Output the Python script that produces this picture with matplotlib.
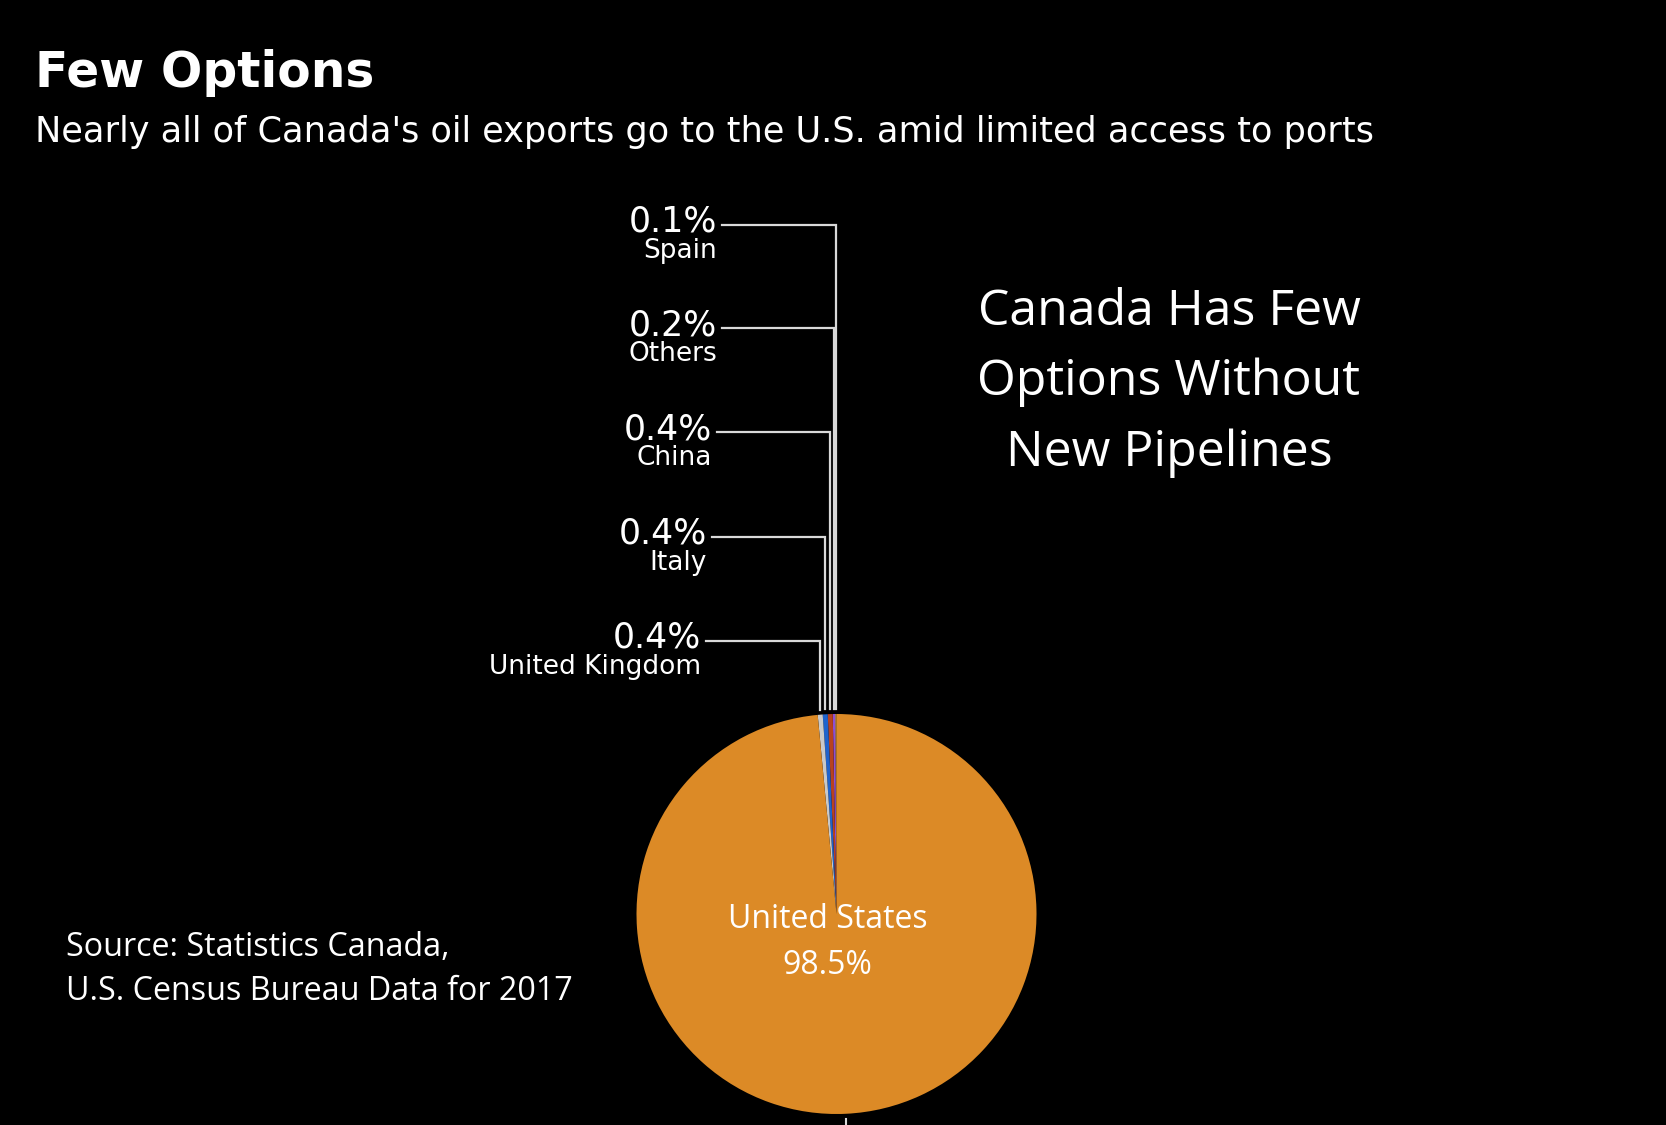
import numpy as np
import matplotlib
matplotlib.use("Agg")
from matplotlib import pyplot as plt

# data
countries = ['Spain', 'Others', 'China', 'Italy', 'United Kingdom', 'United States']
shares = [0.1, 0.2, 0.4, 0.4, 0.4, 98.5]
colors = ['#e0b040', '#8d4fd6', '#b8421f', '#1f63cc', '#c9c9c9', '#dc8a26']

W, H = 1666, 1125
fig = plt.figure(figsize=(W / 100, H / 100), dpi=100, facecolor='black')
ax = fig.add_axes([0, 0, 1, 1])
ax.set_facecolor('black')

# pie in pixel space (y up)
cx, cy, r = 836.5, H - 914, 200
ax.pie(shares, colors=colors, startangle=90, counterclock=True,
       center=(cx, cy), radius=r, wedgeprops=dict(linewidth=0))
ax.set_xlim(0, W)
ax.set_ylim(0, H)
ax.set_aspect('equal')
ax.set_axis_off()

def py(y):
    return H - y

# leader lines for the small slices
line_col = '#d9d9d9'
line_y = [225, 328, 432, 537, 641]
text_right = [717, 717, 712, 707, 701]
cum = np.cumsum([0] + shares)
for i in range(5):
    mid = np.deg2rad(90 + (cum[i] + cum[i + 1]) / 2 * 3.6)
    vx = cx + r * np.cos(mid)
    top_y = cy + r * np.sin(mid) + 5
    ax.plot([text_right[i] + 5, vx, vx], [py(line_y[i]), py(line_y[i]), top_y],
            color=line_col, lw=1.6, solid_joinstyle='miter')
    ax.text(text_right[i], py(line_y[i]) + 3, f'{shares[i]}%', color='white',
            fontsize=25, ha='right', va='center', family='DejaVu Sans')
    ax.text(text_right[i], py(line_y[i]) - 13, countries[i], color='white',
            fontsize=19, ha='right', va='top', family='DejaVu Sans')

# US leader tick at bottom
mid = np.deg2rad(90 + (cum[5] + cum[6]) / 2 * 3.6)
ux = cx + r * np.cos(mid)
ax.plot([ux, ux], [cy + r * np.sin(mid) - 5, -5], color=line_col, lw=1.5)

ax.text(cx - 9, py(919), 'United States', color='white', fontsize=23,
        ha='center', va='center', family='Open Sans')
ax.text(cx - 9, py(965), f'{shares[5]}%', color='white', fontsize=23,
        ha='center', va='center', family='Open Sans')

# titles
ax.text(35, py(87), 'Few Options', color='white', fontsize=35, fontweight='bold',
        ha='left', va='baseline', family='DejaVu Sans')
ax.text(35, py(142), "Nearly all of Canada's oil exports go to the U.S. amid limited access to ports",
        color='white', fontsize=25.3, ha='left', va='baseline', family='DejaVu Sans')

# annotation
for i, s in enumerate(['Canada Has Few', 'Options Without', 'New Pipelines']):
    ax.text(1169, py(312 + 70.5 * i), s, color='white', fontsize=36,
            ha='center', va='center', family='Open Sans')

ax.text(66, py(947), 'Source: Statistics Canada,', color='white', fontsize=23.2,
        ha='left', va='center', family='Open Sans')
ax.text(66, py(992), 'U.S. Census Bureau Data for 2017', color='white', fontsize=23.2,
        ha='left', va='center', family='Open Sans')

fig.savefig('out.png', dpi=100, facecolor='black')
